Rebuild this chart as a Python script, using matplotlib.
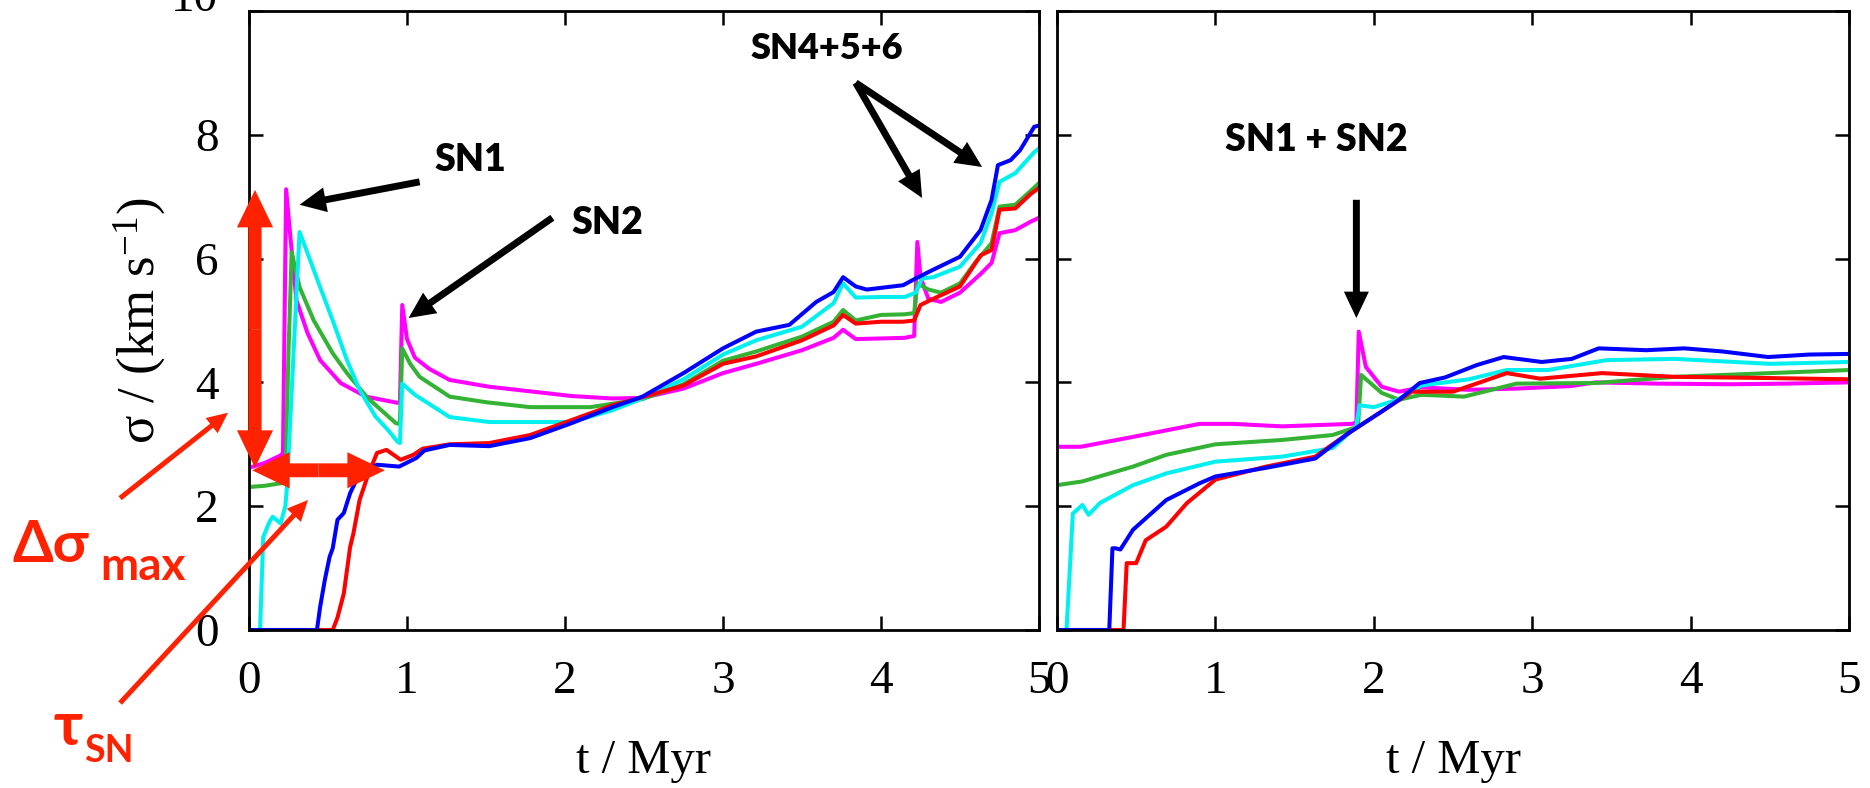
import matplotlib
matplotlib.use("Agg")
import matplotlib.pyplot as plt
import matplotlib.transforms as mtransforms

plt.rcParams["font.family"] = "serif"
plt.rcParams["font.serif"] = ["Liberation Serif", "DejaVu Serif"]
plt.rcParams["mathtext.fontset"] = "custom"
plt.rcParams["mathtext.rm"] = "Liberation Serif"
plt.rcParams["mathtext.it"] = "Liberation Serif:italic"

# ── velocity dispersion vs time, left run ───────────────────────────────────
magenta_t1 = [0.0, 0.1, 0.2, 0.215, 0.235, 0.26, 0.30, 0.37, 0.45, 0.58, 0.74, 0.94, 0.955,
              0.97, 1.0, 1.05, 1.14, 1.27, 1.52, 1.8, 2.04, 2.3, 2.49, 2.75, 3.0, 3.21, 3.5,
              3.70, 3.76, 3.84, 4.0, 4.15, 4.21, 4.23, 4.25, 4.3, 4.38, 4.5, 4.63, 4.70,
              4.75, 4.85, 4.95, 5.0]
magenta_s1 = [2.62, 2.7, 2.82, 2.86, 7.12, 6.4, 5.33, 4.8, 4.36, 3.99, 3.77, 3.67, 3.68,
              5.25, 4.7, 4.4, 4.22, 4.04, 3.93, 3.85, 3.78, 3.74, 3.75, 3.9, 4.15, 4.3, 4.52,
              4.72, 4.85, 4.7, 4.71, 4.72, 4.75, 6.27, 5.7, 5.35, 5.3, 5.45, 5.75, 5.93,
              6.41, 6.46, 6.6, 6.66]

green_t1 = [0.0, 0.1, 0.2, 0.23, 0.25, 0.27, 0.32, 0.41, 0.53, 0.62, 0.75, 0.93, 0.955,
            0.97, 1.02, 1.08, 1.27, 1.5, 1.78, 2.16, 2.49, 2.75, 3.0, 3.21, 3.5, 3.70, 3.76,
            3.84, 4.0, 4.15, 4.21, 4.23, 4.3, 4.38, 4.5, 4.6, 4.7, 4.75, 4.85, 4.95, 5.0]
green_s1 = [2.31, 2.33, 2.37, 2.4, 4.5, 6.1, 5.54, 5.0, 4.47, 4.15, 3.75, 3.34, 3.33,
            4.55, 4.3, 4.09, 3.77, 3.68, 3.6, 3.6, 3.73, 3.97, 4.35, 4.5, 4.74, 4.98, 5.17,
            5.0, 5.09, 5.1, 5.12, 5.6, 5.5, 5.45, 5.6, 5.95, 6.25, 6.84, 6.87, 7.1, 7.22]

cyan_t1 = [0.0, 0.07, 0.09, 0.13, 0.15, 0.2, 0.23, 0.24, 0.32, 0.37, 0.45, 0.53, 0.62, 0.70,
           0.80, 0.88, 0.94, 0.955, 0.97, 1.05, 1.27, 1.52, 2.04, 2.3, 2.49, 2.75, 3.0, 3.21,
           3.5, 3.70, 3.76, 3.84, 4.0, 4.15, 4.22, 4.26, 4.33, 4.5, 4.63, 4.70, 4.75, 4.85,
           4.97, 5.0]
cyan_s1 = [0.0, 0.0, 1.5, 1.75, 1.83, 1.72, 2.0, 2.3, 6.43, 6.09, 5.54, 5.0, 4.36, 3.88,
           3.45, 3.23, 3.04, 3.02, 3.98, 3.8, 3.44, 3.36, 3.36, 3.55, 3.74, 4.05, 4.45, 4.68,
           4.9, 5.28, 5.6, 5.37, 5.38, 5.38, 5.45, 5.68, 5.7, 5.87, 6.25, 6.73, 7.24, 7.38,
           7.72, 7.78]

red_t1 = [0.0, 0.53, 0.56, 0.60, 0.64, 0.66, 0.70, 0.75, 0.81, 0.87, 0.96, 1.04, 1.1, 1.27,
          1.52, 1.78, 2.04, 2.3, 2.49, 2.75, 3.0, 3.21, 3.5, 3.70, 3.76, 3.84, 4.0, 4.14,
          4.21, 4.25, 4.33, 4.5, 4.63, 4.70, 4.75, 4.85, 4.95, 5.0]
red_s1 = [0.0, 0.0, 0.2, 0.59, 1.34, 1.55, 2.1, 2.48, 2.86, 2.91, 2.75, 2.83, 2.93, 3.0,
          3.02, 3.15, 3.39, 3.63, 3.76, 3.95, 4.3, 4.42, 4.68, 4.92, 5.09, 4.95, 4.98, 4.98,
          5.0, 5.25, 5.35, 5.55, 6.05, 6.14, 6.79, 6.81, 7.05, 7.14]

blue_t1 = [0.0, 0.43, 0.45, 0.48, 0.51, 0.53, 0.56, 0.60, 0.64, 0.70, 0.81, 0.95, 1.06, 1.11,
           1.27, 1.52, 1.78, 2.04, 2.3, 2.49, 2.75, 3.0, 3.21, 3.42, 3.59, 3.70, 3.76, 3.84,
           3.91, 4.14, 4.22, 4.33, 4.5, 4.63, 4.70, 4.74, 4.82, 4.88, 4.97, 5.0]
blue_s1 = [0.0, 0.0, 0.37, 0.81, 1.18, 1.32, 1.78, 1.89, 2.21, 2.53, 2.67, 2.64, 2.78, 2.9,
           2.99, 2.97, 3.1, 3.34, 3.6, 3.77, 4.15, 4.55, 4.82, 4.93, 5.3, 5.46, 5.7, 5.55,
           5.5, 5.57, 5.68, 5.82, 6.03, 6.46, 6.95, 7.51, 7.59, 7.75, 8.13, 8.15]

# ── right run ───────────────────────────────────────────────────────────────
magenta_t2 = [0.0, 0.15, 0.48, 0.9, 1.11, 1.42, 1.86, 1.89, 1.905, 1.95, 2.05, 2.16, 2.3,
              2.6, 2.9, 3.24, 3.4, 3.8, 4.25, 4.6, 5.0]
magenta_s2 = [2.96, 2.96, 3.12, 3.33, 3.33, 3.29, 3.33, 3.35, 4.82, 4.25, 3.93, 3.85, 3.92,
              3.88, 3.9, 3.94, 4.0, 3.98, 3.97, 3.98, 4.0]

green_t2 = [0.0, 0.16, 0.48, 0.69, 1.0, 1.42, 1.74, 1.87, 1.9, 1.92, 2.05, 2.16, 2.3, 2.57,
            2.9, 3.4, 3.9, 4.5, 5.0]
green_s2 = [2.34, 2.4, 2.64, 2.83, 3.0, 3.07, 3.15, 3.26, 3.28, 4.12, 3.83, 3.72, 3.8, 3.77,
            3.98, 3.99, 4.09, 4.15, 4.2]

cyan_t2 = [0.0, 0.06, 0.1, 0.16, 0.2, 0.27, 0.48, 0.69, 1.0, 1.42, 1.74, 1.87, 1.89, 1.91,
           2.0, 2.15, 2.3, 2.6, 2.84, 3.1, 3.47, 3.9, 4.5, 5.0]
cyan_s2 = [0.0, 0.0, 1.88, 2.02, 1.86, 2.05, 2.34, 2.53, 2.72, 2.8, 2.94, 3.24, 3.3, 3.63,
           3.6, 3.72, 3.95, 4.05, 4.2, 4.2, 4.36, 4.38, 4.3, 4.33]

red_t2 = [0.0, 0.42, 0.44, 0.5, 0.56, 0.69, 0.82, 1.0, 1.32, 1.63, 1.84, 2.05, 2.24, 2.5,
          2.84, 3.05, 3.44, 3.9, 4.5, 5.0]
red_s2 = [0.0, 0.0, 1.08, 1.08, 1.45, 1.67, 2.05, 2.43, 2.64, 2.8, 3.18, 3.53, 3.85, 3.85,
          4.15, 4.06, 4.15, 4.09, 4.07, 4.05]

blue_t2 = [0.0, 0.33, 0.35, 0.37, 0.40, 0.48, 0.69, 0.9, 1.0, 1.32, 1.63, 1.84, 2.05, 2.16,
           2.29, 2.45, 2.65, 2.82, 3.06, 3.25, 3.42, 3.72, 3.96, 4.2, 4.49, 4.75, 5.0]
blue_s2 = [0.0, 0.0, 1.32, 1.32, 1.3, 1.62, 2.1, 2.37, 2.48, 2.62, 2.77, 3.18, 3.53, 3.72,
           3.99, 4.08, 4.28, 4.41, 4.33, 4.38, 4.55, 4.52, 4.55, 4.5, 4.41, 4.45, 4.46]

x_ticks = [0, 1, 2, 3, 4, 5]
y_ticks = [0, 2, 4, 6, 8, 10]

COLORS = {"magenta": "#ff00ff", "green": "#33b233", "cyan": "#00f0f0",
          "red": "#ff0000", "blue": "#0000ff"}
ANNOT_RED = "#ff2200"
SANS = ["Lato", "Noto Sans", "DejaVu Sans"]

fig = plt.figure(figsize=(18.7, 7.88), dpi=100)
ax1 = fig.add_axes([249 / 1870, 158 / 788, 790 / 1870, 619 / 788])
ax2 = fig.add_axes([1057 / 1870, 158 / 788, 792 / 1870, 619 / 788])

runs = [
    (ax1, [(magenta_t1, magenta_s1, "magenta"), (green_t1, green_s1, "green"),
           (cyan_t1, cyan_s1, "cyan"), (red_t1, red_s1, "red"),
           (blue_t1, blue_s1, "blue")]),
    (ax2, [(magenta_t2, magenta_s2, "magenta"), (green_t2, green_s2, "green"),
           (cyan_t2, cyan_s2, "cyan"), (red_t2, red_s2, "red"),
           (blue_t2, blue_s2, "blue")]),
]
for ax, curves in runs:
    for t, s, c in curves:
        ax.plot(t, s, color=COLORS[c], lw=2.9, solid_joinstyle="round")
    ax.set_xlim(0, 5)
    ax.set_ylim(0, 10)
    ax.set_xticks(x_ticks)
    ax.set_yticks(y_ticks)
    ax.tick_params(direction="in", length=10, width=1.8, top=True, right=True,
                   labelsize=34, pad=22)
    for sp in ax.spines.values():
        sp.set_linewidth(2.0)
    ax.set_xlabel("t / Myr", fontsize=35, va="baseline")
    ax.xaxis.set_label_coords(0.5, -0.231)

ax2.tick_params(labelleft=False)
ax1.set_ylabel(r"σ / (km s$^{-1}$)", fontsize=38, va="center")
ax1.yaxis.set_label_coords(-0.138, 0.5)

# top label sits mostly above the page edge
fig.canvas.draw()
top_lbl = ax1.get_yticklabels()[-1]
top_lbl.set_transform(top_lbl.get_transform()
                      + mtransforms.ScaledTranslation(0, 0.16, fig.dpi_scale_trans))


# ── annotations ─────────────────────────────────────────────────────────────
def arrow(ax, start, end, color, tail, head_w, head_l):
    ax.annotate("", xy=end, xytext=start, annotation_clip=False,
                arrowprops=dict(arrowstyle=f"simple,head_length={head_l},"
                                           f"head_width={head_w},tail_width={tail}",
                                mutation_scale=1, color=color, lw=0,
                                shrinkA=0, shrinkB=0))


def label(ax, x, y, s, size):
    ax.text(x, y, s, ha="center", va="center", fontsize=size,
            fontweight="heavy", family=SANS, color="black")


label(ax1, 1.40, 7.59, "SN1", 27)
arrow(ax1, (1.08, 7.24), (0.32, 6.87), "black", 5, 18, 19)
label(ax1, 2.27, 6.58, "SN2", 27)
arrow(ax1, (1.92, 6.66), (1.01, 5.04), "black", 5, 18, 19)
label(ax1, 3.66, 9.40, "SN4+5+6", 26)
arrow(ax1, (3.84, 8.84), (4.26, 6.98), "black", 5, 18, 19)
arrow(ax1, (3.84, 8.84), (4.64, 7.48), "black", 5, 18, 19)
label(ax2, 1.64, 7.92, "SN1 + SN2", 27)
arrow(ax2, (1.89, 6.95), (1.89, 5.04), "black", 5, 18, 19)

# double-headed markers for the peak height and the delay
arrow(ax1, (0.038, 4.86), (0.038, 7.11), ANNOT_RED, 9.5, 26, 27)
arrow(ax1, (0.038, 4.86), (0.038, 2.62), ANNOT_RED, 9.5, 26, 27)
arrow(ax1, (0.44, 2.58), (0.02, 2.58), ANNOT_RED, 10, 26, 27)
arrow(ax1, (0.44, 2.58), (0.86, 2.58), ANNOT_RED, 10, 26, 27)

# pointers from the symbols
arrow(ax1, (-0.816, 2.13), (-0.133, 3.51), ANNOT_RED, 3.6, 14, 15)
arrow(ax1, (-0.816, -1.18), (0.373, 2.10), ANNOT_RED, 3.6, 14, 15)

red_kw = dict(color=ANNOT_RED, fontweight="bold", family=SANS, va="baseline", ha="left")
ax1.text(-1.494, 1.10, "Δσ", fontsize=42, **red_kw)
ax1.text(-0.943, 0.81, "max", fontsize=33, **red_kw)
ax1.text(-1.24, -1.86, "τ", fontsize=44, **red_kw)
ax1.text(-1.044, -2.13, "SN", fontsize=27, **red_kw)

fig.savefig("out.png", dpi=100, facecolor="white")
